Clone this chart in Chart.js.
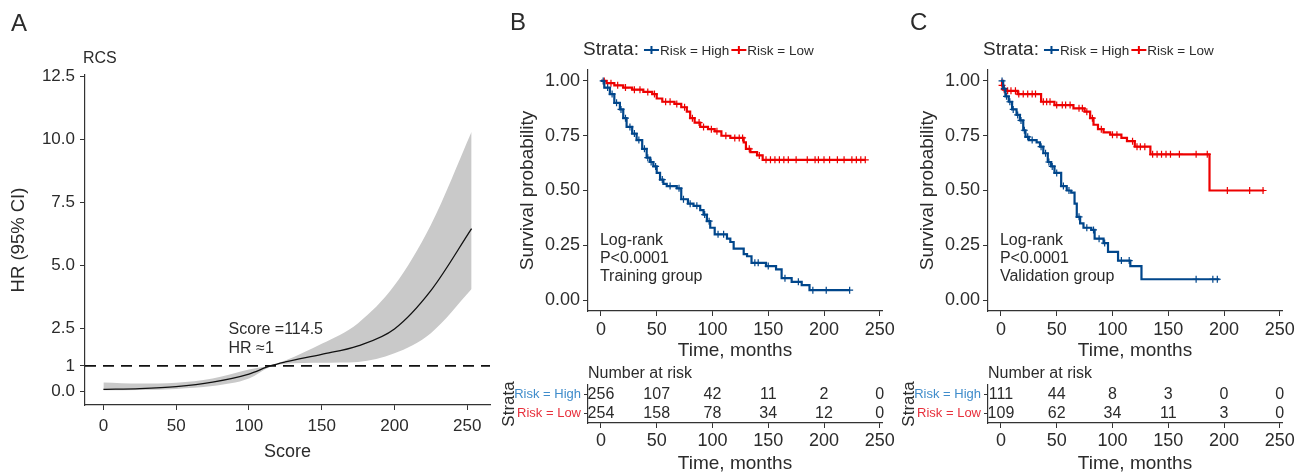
<!DOCTYPE html>
<html>
<head>
<meta charset="utf-8">
<script src="https://cdn.jsdelivr.net/npm/chart.js@4.4.1/dist/chart.umd.min.js"></script>
<style>
  body { margin: 0; background: #fff; width: 1300px; height: 473px; position: relative; overflow: hidden; }
  canvas { position: absolute; }
</style>
</head>
<body>
<canvas id="rcs" width="500" height="473" style="left:0;top:0"></canvas>
<canvas id="kmB" width="400" height="362" style="left:500px;top:0"></canvas>
<canvas id="riskB" width="400" height="111" style="left:500px;top:362px"></canvas>
<canvas id="kmC" width="400" height="362" style="left:900px;top:0"></canvas>
<canvas id="riskC" width="400" height="111" style="left:900px;top:362px"></canvas>
<script>
// ---- Panel A: restricted cubic spline ----
const scores  = [0, 25, 50, 75, 100, 114.5, 125, 150, 175, 200, 225, 253];
const hr      = [0.07, 0.1, 0.18, 0.36, 0.68, 1.0, 1.16, 1.46, 1.8, 2.47, 3.99, 6.45];
const hrUpper = [0.34, 0.3, 0.33, 0.5, 0.86, 1.02, 1.22, 1.88, 2.7, 4.2, 6.6, 10.3];
const hrLower = [0.04, 0.05, 0.09, 0.2, 0.5, 0.96, 1.09, 1.13, 1.16, 1.5, 2.3, 4.05];
const refHR = 1;
const rcsXTicks = [0, 50, 100, 150, 200, 250];
const rcsYTicks = [0, 1, 2.5, 5, 7.5, 10, 12.5];
const rcsYLabels = ['0.0', '1', '2.5', '5.0', '7.5', '10.0', '12.5'];

// ---- Panels B/C: Kaplan-Meier ----
const strata = ['Risk = High', 'Risk = Low'];
const timeTicks = [0, 50, 100, 150, 200, 250];
const survTicks = [0, 0.25, 0.5, 0.75, 1];
const survLabels = ['0.00', '0.25', '0.50', '0.75', '1.00'];

// training group
const bHighTime = [0, 3, 8, 12, 17, 20, 23, 28, 32, 37, 41, 44, 47, 50, 53, 56, 59, 68, 72, 78, 83, 89, 92, 95, 98, 102, 113, 116, 119, 128, 131, 135, 148, 157, 162, 171, 180, 187];
const bHighSurv = [1, 0.97, 0.94, 0.9, 0.87, 0.83, 0.79, 0.76, 0.73, 0.69, 0.65, 0.63, 0.61, 0.58, 0.55, 0.53, 0.52, 0.51, 0.46, 0.44, 0.43, 0.41, 0.39, 0.36, 0.33, 0.3, 0.28, 0.265, 0.235, 0.21, 0.2, 0.17, 0.155, 0.14, 0.1, 0.083, 0.068, 0.045];
const bHighEnd = 223;
const bHighCensor = [2, 6, 10, 14, 18, 22, 26, 30, 34, 39, 42, 45, 49, 55, 62, 70, 74, 80, 86, 93, 97, 105, 110, 138, 141, 150, 165, 177, 190, 202, 223];
const bLowTime = [0, 5, 12, 20, 28, 38, 46, 50, 55, 66, 72, 77, 80, 84, 89, 96, 102, 108, 116, 128, 130, 134, 140, 145];
const bLowSurv = [1, 0.99, 0.98, 0.97, 0.96, 0.95, 0.94, 0.92, 0.905, 0.895, 0.88, 0.86, 0.83, 0.81, 0.79, 0.78, 0.77, 0.75, 0.74, 0.72, 0.69, 0.675, 0.66, 0.64];
const bLowEnd = 237;
const bLowCensor = [3, 9, 15, 22, 30, 35, 42, 48, 58, 62, 68, 75, 82, 88, 92, 99, 104, 112, 120, 124, 127, 133, 142, 148, 152, 156, 160, 164, 168, 175, 185, 192, 195, 200, 205, 212, 218, 225, 229, 233, 237];
const bRiskHigh = [256, 107, 42, 11, 2, 0];
const bRiskLow  = [254, 158, 78, 34, 12, 0];

// validation group
const cHighTime = [0, 2, 4, 7, 10, 14, 17, 20, 22, 25, 32, 35, 38, 42, 45, 48, 54, 59, 63, 66, 68, 71, 74, 81, 84, 92, 96, 105, 116, 126];
const cHighSurv = [1, 0.965, 0.93, 0.905, 0.87, 0.845, 0.82, 0.775, 0.745, 0.73, 0.72, 0.7, 0.67, 0.63, 0.61, 0.58, 0.52, 0.5, 0.49, 0.44, 0.38, 0.35, 0.33, 0.32, 0.28, 0.26, 0.22, 0.18, 0.155, 0.095];
const cHighEnd = 196;
const cHighCensor = [1, 3, 5, 8, 11, 15, 18, 21, 24, 28, 36, 40, 43, 46, 50, 56, 61, 70, 77, 83, 88, 93, 108, 115, 175, 190, 194];
const cLowTime = [0, 1, 2, 5, 15, 36, 48, 65, 75, 80, 83, 87, 92, 98, 108, 113, 120, 134, 187];
const cLowSurv = [1, 0.98, 0.96, 0.955, 0.94, 0.905, 0.89, 0.875, 0.86, 0.83, 0.8, 0.78, 0.765, 0.755, 0.74, 0.725, 0.7, 0.665, 0.5];
const cLowEnd = 236;
const cLowCensor = [1, 3, 6, 9, 13, 16, 20, 24, 28, 31, 38, 41, 44, 50, 55, 58, 62, 70, 73, 77, 82, 90, 100, 104, 118, 122, 125, 129, 136, 140, 144, 148, 152, 160, 175, 185, 203, 223, 235];
const cRiskHigh = [111, 44, 8, 3, 0, 0];
const cRiskLow  = [109, 62, 34, 11, 3, 0];

const BLUE = '#00468B';
const RED = '#ED0000';
const BLUE_LBL = '#3f8ccb';
const RED_LBL = '#e8303c';
const INK = '#2b2b2b';
const FONT = "'Liberation Sans', Arial, Helvetica, sans-serif";

Chart.defaults.font.family = FONT;
Chart.defaults.color = INK;

const tickGrid = { display: true, drawOnChartArea: false, drawTicks: true, tickLength: 5, color: '#333', lineWidth: 1 };
const axisBorder = { display: true, color: '#333', width: 1.2 };

function xy(xs, ys) {
    return xs.map((x, i) => ({ x: x, y: ys[i] }));
}

function kmPoints(times, surv, end) {
    const pts = xy(times, surv);
    pts.push({ x: end, y: surv[surv.length - 1] });
    return pts;
}

function survAt(times, surv, t) {
    let s = surv[0];
    for (let i = 0; i < times.length; i++) if (times[i] <= t) s = surv[i];
    return s;
}

function censorPoints(cens, times, surv) {
    return cens.map(t => ({ x: t, y: survAt(times, surv, t) }));
}

// Panel A
new Chart(document.getElementById('rcs'), {
    type: 'line',
    data: {
        datasets: [
            { data: xy(scores, hrUpper), borderColor: 'rgba(0,0,0,0)', pointRadius: 0, backgroundColor: '#c9c9c9', fill: '+1', cubicInterpolationMode: 'monotone', order: 3 },
            { data: xy(scores, hrLower), borderColor: 'rgba(0,0,0,0)', pointRadius: 0, fill: false, cubicInterpolationMode: 'monotone', order: 3 },
            { data: [{ x: -12.65, y: refHR }, { x: 265.65, y: refHR }], borderColor: '#111', borderWidth: 1.8, borderDash: [11, 7], pointRadius: 0, order: 2 },
            { data: xy(scores, hr), borderColor: '#111', borderWidth: 1.3, pointRadius: 0, cubicInterpolationMode: 'monotone', order: 1 }
        ]
    },
    options: {
        responsive: false, animation: false, devicePixelRatio: 1,
        layout: { padding: { top: 75, right: 10, bottom: 0, left: 0 } },
        plugins: { legend: { display: false }, tooltip: { enabled: false } },
        scales: {
            x: {
                type: 'linear', min: -12.65, max: 265.65,
                afterBuildTicks: s => { s.ticks = rcsXTicks.map(v => ({ value: v })); },
                afterFit: s => { s.height = 68; },
                ticks: { font: { size: 17 }, padding: 6, maxRotation: 0, autoSkip: false },
                grid: tickGrid, border: axisBorder,
                title: { display: true, text: 'Score', font: { size: 18, lineHeight: 1 }, padding: { top: 0, bottom: 12 } }
            },
            y: {
                type: 'linear', min: -0.55, max: 12.55,
                afterBuildTicks: s => { s.ticks = rcsYTicks.map(v => ({ value: v })); },
                afterFit: s => { s.width = 85; },
                ticks: { font: { size: 17 }, padding: 5, autoSkip: false, callback: (v, i) => rcsYLabels[i] },
                grid: tickGrid, border: axisBorder,
                title: { display: true, text: 'HR (95% CI)', font: { size: 18.5, lineHeight: 1 }, padding: { top: 10, bottom: 0 } }
            }
        }
    },
    plugins: [{
        id: 'rcsText',
        afterDraw(chart) {
            const ctx = chart.ctx, xs = chart.scales.x, ys = chart.scales.y;
            ctx.save();
            ctx.fillStyle = INK;
            ctx.textBaseline = 'middle';
            ctx.textAlign = 'left';
            ctx.font = '24px ' + FONT;
            ctx.fillText('A', 11, 24);
            ctx.font = '16px ' + FONT;
            ctx.fillText('RCS', chart.chartArea.left - 2, 59);
            ctx.fillText('Score =114.5', xs.getPixelForValue(86), ys.getPixelForValue(2.45));
            ctx.fillText('HR \u22481', xs.getPixelForValue(86), ys.getPixelForValue(1.7));
            ctx.restore();
        }
    }]
});

function kmChart(id, letter, groupText, d) {
    new Chart(document.getElementById(id), {
        type: 'line',
        data: {
            datasets: [
                { data: kmPoints(d.highT, d.highS, d.highEnd), borderColor: BLUE, borderWidth: 2.2, stepped: 'before', pointRadius: 0, fill: false },
                { data: kmPoints(d.lowT, d.lowS, d.lowEnd), borderColor: RED, borderWidth: 2.2, stepped: 'before', pointRadius: 0, fill: false },
                { data: censorPoints(d.highC, d.highT, d.highS), showLine: false, pointStyle: 'cross', pointRadius: 3.5, pointBorderWidth: 1.2, pointBorderColor: BLUE, borderColor: BLUE },
                { data: censorPoints(d.lowC, d.lowT, d.lowS), showLine: false, pointStyle: 'cross', pointRadius: 3.5, pointBorderWidth: 1.2, pointBorderColor: RED, borderColor: RED }
            ]
        },
        options: {
            responsive: false, animation: false, devicePixelRatio: 1,
            layout: { padding: { top: 70, right: 18, bottom: 0, left: 0 } },
            plugins: { legend: { display: false }, tooltip: { enabled: false } },
            scales: {
                x: {
                    type: 'linear', min: -11.6, max: 252,
                    afterBuildTicks: s => { s.ticks = timeTicks.map(v => ({ value: v })); },
                    afterFit: s => { s.height = 51; },
                    ticks: { font: { size: 18 }, padding: 3, maxRotation: 0, autoSkip: false },
                    grid: tickGrid, border: axisBorder,
                    title: { display: true, text: 'Time, months', font: { size: 19, lineHeight: 1 }, padding: { top: 0, bottom: 1.5 } }
                },
                y: {
                    type: 'linear', min: -0.05, max: 1.05,
                    afterBuildTicks: s => { s.ticks = survTicks.map(v => ({ value: v })); },
                    afterFit: s => { s.width = 88; },
                    ticks: { font: { size: 18 }, padding: 3, autoSkip: false, callback: (v, i) => survLabels[i] },
                    grid: tickGrid, border: axisBorder,
                    title: { display: true, text: 'Survival probability', font: { size: 19, lineHeight: 1 }, padding: { top: 18.5, bottom: 0 } }
                }
            }
        },
        plugins: [{
            id: 'kmText',
            afterDraw(chart) {
                const ctx = chart.ctx, xs = chart.scales.x, ys = chart.scales.y;
                ctx.save();
                ctx.fillStyle = INK;
                ctx.textBaseline = 'middle';
                ctx.textAlign = 'left';
                ctx.font = '24px ' + FONT;
                ctx.fillText(letter, 10, 23);
                // legend
                let x = 83;
                const y = 50;
                ctx.font = '19px ' + FONT;
                ctx.fillText('Strata:', x, y);
                x += ctx.measureText('Strata:').width + 5;
                [[BLUE, strata[0]], [RED, strata[1]]].forEach(([col, lab]) => {
                    ctx.strokeStyle = col;
                    ctx.lineWidth = 2;
                    ctx.beginPath();
                    ctx.moveTo(x, y); ctx.lineTo(x + 15, y);
                    ctx.moveTo(x + 7.5, y - 4); ctx.lineTo(x + 7.5, y + 4);
                    ctx.stroke();
                    x += 16;
                    ctx.font = '13.5px ' + FONT;
                    ctx.fillText(lab, x, y + 1);
                    x += ctx.measureText(lab).width + 2;
                });
                // test annotation
                ctx.font = '16px ' + FONT;
                const lx = xs.getPixelForValue(0) - 1;
                const ly = ys.getPixelForValue(0.27);
                ['Log-rank', 'P<0.0001', groupText].forEach((s, i) => ctx.fillText(s, lx, ly + i * 18));
                ctx.restore();
            }
        }]
    });
}

function riskChart(id, high, low) {
    new Chart(document.getElementById(id), {
        type: 'line',
        data: {
            datasets: [
                { data: timeTicks.map((t, i) => ({ x: t, y: strata[0], n: high[i] })), showLine: false, pointRadius: 0 },
                { data: timeTicks.map((t, i) => ({ x: t, y: strata[1], n: low[i] })), showLine: false, pointRadius: 0 }
            ]
        },
        options: {
            responsive: false, animation: false, devicePixelRatio: 1,
            layout: { padding: { top: 23, right: 18, bottom: 0, left: 0 } },
            plugins: { legend: { display: false }, tooltip: { enabled: false } },
            scales: {
                x: {
                    type: 'linear', min: -11.6, max: 252,
                    afterBuildTicks: s => { s.ticks = timeTicks.map(v => ({ value: v })); },
                    afterFit: s => { s.height = 50; },
                    ticks: { font: { size: 18 }, padding: 2, maxRotation: 0, autoSkip: false },
                    grid: tickGrid, border: axisBorder,
                    title: { display: true, text: 'Time, months', font: { size: 19, lineHeight: 1 }, padding: { top: 0, bottom: 0 } }
                },
                y: {
                    type: 'category', labels: strata, offset: true,
                    afterFit: s => { s.width = 88; },
                    ticks: { font: { size: 13 }, padding: 3, color: c => (c.index === 0 ? BLUE_LBL : RED_LBL) },
                    grid: Object.assign({}, tickGrid, { tickLength: 4 }), border: axisBorder,
                    title: { display: true, text: 'Strata', font: { size: 17, lineHeight: 1 }, padding: { top: 0.5, bottom: 0 } }
                }
            }
        },
        plugins: [{
            id: 'riskText',
            afterDatasetsDraw(chart) {
                const ctx = chart.ctx;
                ctx.save();
                ctx.fillStyle = INK;
                ctx.textBaseline = 'middle';
                ctx.font = '16px ' + FONT;
                ctx.textAlign = 'left';
                ctx.fillText('Number at risk', chart.chartArea.left, 12);
                ctx.textAlign = 'center';
                chart.data.datasets.forEach((ds, di) => {
                    chart.getDatasetMeta(di).data.forEach((pt, i) => {
                        ctx.fillText(String(ds.data[i].n), pt.x, pt.y);
                    });
                });
                ctx.restore();
            }
        }]
    });
}

kmChart('kmB', 'B', 'Training group', {
    highT: bHighTime, highS: bHighSurv, highEnd: bHighEnd, highC: bHighCensor,
    lowT: bLowTime, lowS: bLowSurv, lowEnd: bLowEnd, lowC: bLowCensor
});
riskChart('riskB', bRiskHigh, bRiskLow);

kmChart('kmC', 'C', 'Validation group', {
    highT: cHighTime, highS: cHighSurv, highEnd: cHighEnd, highC: cHighCensor,
    lowT: cLowTime, lowS: cLowSurv, lowEnd: cLowEnd, lowC: cLowCensor
});
riskChart('riskC', cRiskHigh, cRiskLow);
</script>
</body>
</html>
